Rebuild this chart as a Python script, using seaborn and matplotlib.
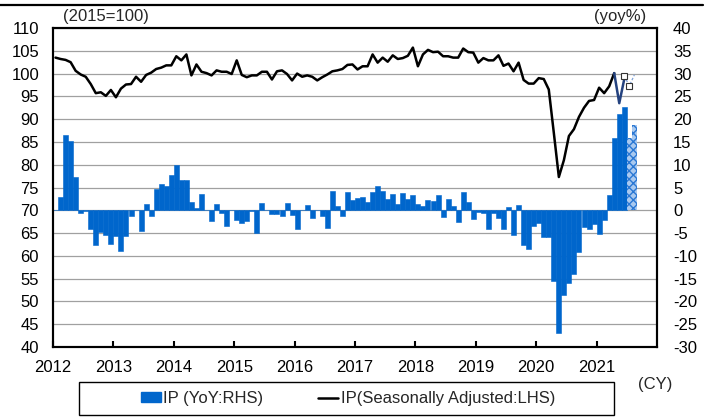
import numpy as np
import pandas as pd
import matplotlib
matplotlib.use("Agg")
import matplotlib.pyplot as plt
import seaborn as sns
from matplotlib.patches import Patch, Rectangle
from matplotlib.lines import Line2D

# ---------------- data (monthly, Jan 2012 - Jun 2021) ----------------
start_year = 2012
ip_sa = [
    103.5, 103.2, 103.0, 102.5, 100.6, 99.8, 99.3, 97.7, 95.7, 95.9, 95.1, 96.4,   # 2012
    94.8, 96.7, 97.6, 97.7, 99.3, 98.2, 99.7, 100.2, 101.0, 101.3, 101.8, 101.8,   # 2013
    103.8, 102.9, 104.2, 99.6, 102.0, 100.4, 100.1, 99.6, 100.7, 100.4, 100.4, 99.9,  # 2014
    102.9, 99.7, 99.2, 99.6, 99.6, 100.4, 100.4, 98.7, 100.5, 100.7, 99.9, 98.5,   # 2015
    100.0, 99.3, 99.6, 99.3, 98.5, 99.2, 99.8, 100.5, 100.7, 101.0, 101.9, 102.0,  # 2016
    100.9, 101.6, 101.6, 104.2, 102.4, 103.5, 102.6, 104.0, 103.2, 103.4, 103.9, 105.7,  # 2017
    101.6, 104.2, 105.2, 104.7, 104.8, 103.8, 103.8, 103.5, 103.5, 105.5, 104.7, 104.6,  # 2018
    102.4, 103.4, 102.9, 102.9, 104.0, 101.7, 102.2, 100.5, 102.4, 98.6, 97.8, 97.8,  # 2019
    99.0, 98.8, 96.5, 87.0, 77.3, 81.0, 86.3, 87.8, 90.5, 92.5, 94.0, 94.2,   # 2020
    96.9, 95.7, 97.2, 100.1, 93.5, 98.8,                                       # 2021
]
ip_yoy = [
    0.0, 3.0, 16.6, 15.1, 7.4, -0.6, -0.2, -4.0, -7.7, -4.8, -5.5, -7.5,       # 2012
    -5.6, -9.0, -5.7, -1.3, 0.0, -4.6, 1.4, -1.3, 4.7, 5.7, 5.4, 7.8,          # 2013
    10.0, 6.6, 6.7, 1.9, 0.4, 3.6, 0.0, -2.4, 1.4, -0.7, -3.5, 0.0,            # 2014
    -2.1, -2.8, -2.4, -0.1, -5.0, 1.5, 0.0, -0.9, -0.9, -1.3, 1.5, -1.0,        # 2015
    -4.2, 0.0, 1.1, -1.8, 0.0, -1.2, -3.8, 4.3, 1.0, -1.2, 4.0, 2.3,           # 2016
    2.6, 3.0, 1.8, 4.0, 5.3, 4.2, 2.4, 3.6, 1.3, 3.9, 2.4, 3.3,                 # 2017
    1.3, 1.0, 2.3, 2.1, 3.4, -1.5, 2.4, 1.0, -2.5, 4.1, 1.9, -2.0,              # 2018
    -0.3, -0.7, -4.1, -0.7, -1.8, -4.0, 0.7, -5.4, 1.2, -7.6, -8.4, -3.5,        # 2019
    -2.7, -5.9, -5.9, -15.5, -27.0, -18.5, -16.0, -14.0, -9.1, -3.6, -4.1, -2.9,  # 2020
    -5.3, -2.1, 3.3, 15.9, 21.2, 22.6,                                          # 2021
]
ip_yoy_forecast = [15.9, 18.8]          # Jul, Aug 2021 (forecast)
ip_sa_forecast = [99.5, 97.3, 99.7]     # Jun, Jul, Aug 2021 (forecast path)
year_ticks = list(range(2012, 2022))
year_labels = [str(y) for y in year_ticks]

# ---------------- style ----------------
sns.set_theme(style="white")
plt.rcParams['font.family'] = ['Liberation Sans', 'DejaVu Sans']
plt.rcParams['font.size'] = 12
plt.rcParams['axes.unicode_minus'] = False
plt.rcParams['hatch.linewidth'] = 1.0

BLUE = "#0066cc"
W, H = 707, 417

n = len(ip_yoy)
t = start_year + (np.arange(n) + 0.5) / 12
t_fc_bar = start_year + (np.arange(n, n + 2) + 0.5) / 12
t_fc_line = start_year + (np.arange(n - 1, n + 2) + 0.5) / 12

fig = plt.figure(figsize=(W / 100, H / 100), dpi=100)
ax = fig.add_axes([53 / W, 1 - 347 / H, (657 - 53) / W, (347 - 28) / H])
ax2 = ax.twinx()

# bars (right axis)
df_bar = pd.DataFrame({"t": t, "yoy": ip_yoy})
sns.barplot(data=df_bar, x="t", y="yoy", native_scale=True, width=1.0,
            color=BLUE, saturation=1, errorbar=None, ax=ax2,
            linewidth=0.4, edgecolor=BLUE)
df_fc = pd.DataFrame({"t": t_fc_bar, "yoy": ip_yoy_forecast})
sns.barplot(data=df_fc, x="t", y="yoy", native_scale=True, width=1.0,
            color="#a9c9ef", saturation=1, errorbar=None, ax=ax2,
            linewidth=0, edgecolor="#2a78d4", hatch="xxxx")

# line (left axis)
df_line = pd.DataFrame({"t": t, "ip": ip_sa})
sns.lineplot(data=df_line.iloc[:n - 2], x="t", y="ip", color="black",
             lw=1.8, ax=ax)
sns.lineplot(data=df_line.iloc[n - 3:], x="t", y="ip", color="#24427f",
             lw=1.8, ax=ax)
sns.lineplot(x=t_fc_line, y=ip_sa_forecast, color="#7ea0d8", lw=0.9,
             linestyle=(0, (2, 1.5)), marker="s", markersize=4,
             markerfacecolor="white", markeredgecolor="#333333",
             markeredgewidth=0.8, markevery=[0, 1], ax=ax)

ax.set_zorder(ax2.get_zorder() + 1)
ax.patch.set_visible(False)

# axes
ax.set_xlim(2012, 2022)
ax.set_xticks(year_ticks)
ax.set_xticklabels(year_labels)
ax.set_ylim(40, 110)
ax.set_yticks(range(40, 111, 5))
ax2.set_ylim(-30, 40)
ax2.set_yticks(range(-30, 41, 5))
for a in (ax, ax2):
    a.set_xlabel("")
    a.set_ylabel("")
    a.grid(False)
ax2.set_axisbelow(True)
ax2.yaxis.grid(True, color="#a0a0a0", lw=0.9)

ax.tick_params(axis="x", direction="in", length=4, width=1.5, pad=9,
               labelsize=12, colors="black", bottom=True)
ax.tick_params(axis="y", length=0, pad=10, labelsize=12, colors="black")
ax2.tick_params(axis="y", length=0, pad=11.5, labelsize=12, colors="black")
ax2.tick_params(axis="x", length=0, labelbottom=False)

for a in (ax, ax2):
    for s in a.spines.values():
        s.set_color("black")
        s.set_linewidth(1.5)
        s.set_visible(True)

# annotations
fig.text(62.7 / W, 1 - 17 / H, "(2015=100)", ha="left", va="center", fontsize=12)
fig.text(646 / W, 1 - 17 / H, "(yoy%)", ha="right", va="center", fontsize=12)
fig.text(638 / W, 1 - 384 / H, "(CY)", ha="left", va="center", fontsize=12)

# top rule
fig.add_artist(Line2D([0, 703 / W], [1 - 4.8 / H] * 2, transform=fig.transFigure,
                      color="black", lw=1.6))

# legend box + legend
fig.add_artist(Rectangle((79 / W, 1 - 415 / H), 535 / W, 33 / H,
                         transform=fig.transFigure, fill=False,
                         ec="black", lw=1.0))
handles = [Patch(facecolor=BLUE, edgecolor=BLUE, label="IP (YoY:RHS)"),
           Line2D([], [], color="black", lw=1.8, label="IP(Seasonally Adjusted:LHS)")]
fig.legend(handles=handles, loc="center", bbox_to_anchor=(348 / W, 1 - 398.5 / H),
           ncol=2, frameon=False, handlelength=1.2, handleheight=0.5,
           handletextpad=0.15, columnspacing=3.3, fontsize=12,
           borderpad=0, borderaxespad=0)

fig.savefig("out.png", dpi=100)
